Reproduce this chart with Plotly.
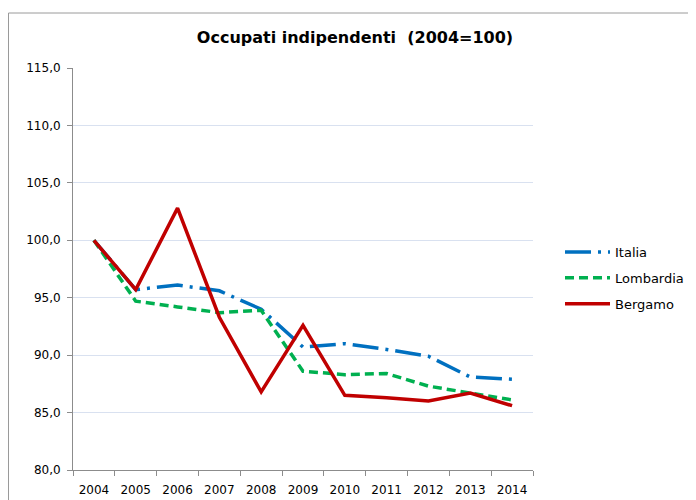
import plotly.graph_objects as go

years = ["2004", "2005", "2006", "2007", "2008", "2009", "2010", "2011", "2012", "2013", "2014"]
italia = [100.0, 95.7, 96.1, 95.6, 94.0, 90.7, 91.0, 90.5, 89.9, 88.1, 87.9]
lombardia = [100.0, 94.7, 94.2, 93.7, 93.9, 88.6, 88.3, 88.4, 87.3, 86.7, 86.1]
bergamo = [100.0, 95.7, 102.8, 93.3, 86.8, 92.6, 86.5, 86.3, 86.0, 86.7, 85.6]

FONT = "DejaVu Sans"

fig = go.Figure()
fig.add_trace(go.Scatter(x=years, y=italia, name="Italia", mode="lines", legendgroup="a",
                         line=dict(color="#0070C0", width=3.5, dash="26px,7px,3px,7px")))
fig.add_trace(go.Scatter(x=years, y=lombardia, name="Lombardia", mode="lines", legendgroup="b",
                         line=dict(color="#00B050", width=3.5, dash="9px,5px")))
fig.add_trace(go.Scatter(x=years, y=bergamo, name="Bergamo", mode="lines", legendgroup="c",
                         line=dict(color="#C00000", width=3.5)))

L, T, R, B = 65, 60, 525, 462  # plot area in figure coords (page offset 8px)
PW, PH = R - L, B - T

fig.update_layout(
    width=696, height=500,
    margin=dict(l=L, r=696 - R, t=T, b=500 - B),
    paper_bgcolor="white", plot_bgcolor="white",
    separators=",.",
    font=dict(family=FONT, size=12, color="black"),
    title=dict(text="<b>Occupati indipendenti  (2004=100)</b>", x=(347 - L) / PW, xref="paper",
               xanchor="center", y=1 - 29 / 500, yanchor="middle",
               font=dict(family=FONT, size=16, color="black")),
    showlegend=True,
    legend=dict(x=(552 - L) / PW, xanchor="left", y=(B - 270) / PH, yanchor="middle",
                font=dict(family=FONT, size=13, color="black"),
                itemwidth=45, tracegroupgap=6, traceorder="grouped", bgcolor="rgba(0,0,0,0)"),
    xaxis=dict(type="category", range=[-0.5, len(years) - 0.5], showgrid=False, showline=True,
               linecolor="#8C8C8C", linewidth=1,
               ticks="outside", tickson="boundaries", ticklen=5, tickcolor="#8C8C8C",
               ticklabelstandoff=9, tickfont=dict(family=FONT, size=12), fixedrange=True),
    yaxis=dict(range=[80, 115], dtick=5, tickformat=".1f", showgrid=True, gridcolor="#D9E1F0",
               gridwidth=1, showline=True, linecolor="#8C8C8C", linewidth=1, ticks="outside",
               ticklen=5, tickcolor="#8C8C8C", ticklabelstandoff=4,
               tickfont=dict(family=FONT, size=12), zeroline=False),
    shapes=[
        dict(type="line", xref="paper", yref="paper", x0=(0.5 - L) / PW, x1=(0.5 - L) / PW,
             y0=-0.2, y1=(B - 5) / PH, line=dict(color="#9A9A9A", width=1)),
        dict(type="line", xref="paper", yref="paper", x0=(0.5 - L) / PW, x1=1.5,
             y0=(B - 5) / PH, y1=(B - 5) / PH, line=dict(color="#9A9A9A", width=1)),
    ],
)

fig.write_html("out.html")
